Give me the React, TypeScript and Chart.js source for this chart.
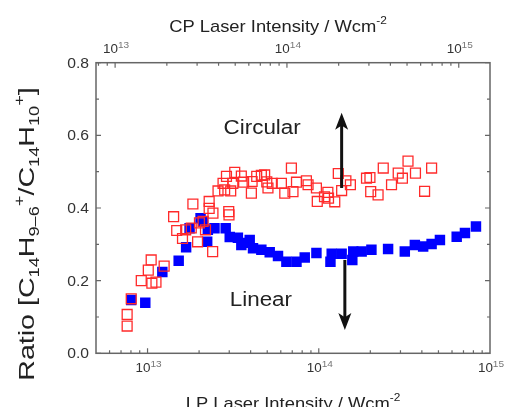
import { useEffect, useRef } from 'react';
import { Chart, registerables } from 'chart.js';

Chart.register(...registerables);

const FONT = '"Liberation Sans", Arial, Helvetica, sans-serif';

// ---- data ----
const lpRange = [5e12, 1e15];
const cpRange = [7.74e12, 1.52e15];
const ratioRange = [0, 0.8];
const ratioTicks = [0, 0.1, 0.2, 0.3, 0.4, 0.5, 0.6, 0.7, 0.8];
const ratioLabels = ['0.0', '', '0.2', '', '0.4', '', '0.6', '', '0.8'];

// Linear polarisation (blue filled squares)
const linearIntensity = [
  8.03e12, 9.7e12, 1.22e13, 1.52e13, 1.68e13, 1.76e13, 2.04e13, 2.11e13, 2.23e13, 2.25e13,
  2.46e13, 2.86e13, 3.02e13, 3.37e13, 3.53e13, 3.78e13, 3.95e13, 4.13e13, 4.62e13, 5.17e13,
  5.78e13, 6.47e13, 7.41e13, 8.28e13, 9.69e13, 1.19e14, 1.17e14, 1.36e14, 1.59e14, 1.57e14,
  1.78e14, 2.03e14, 2.54e14, 3.18e14, 3.64e14, 4.07e14, 4.56e14, 5.1e14, 6.39e14, 7.14e14,
  8.28e14,
];
const linearRatio = [
  0.147, 0.139, 0.224, 0.255, 0.292, 0.344, 0.372, 0.362, 0.307, 0.34,
  0.344, 0.344, 0.32, 0.318, 0.298, 0.304, 0.312, 0.289, 0.285, 0.278,
  0.268, 0.252, 0.252, 0.264, 0.276, 0.274, 0.252, 0.274, 0.28, 0.257,
  0.28, 0.285, 0.287, 0.28, 0.298, 0.294, 0.301, 0.312, 0.321, 0.331,
  0.349,
];

// Circular polarisation (red open squares)
const circularIntensity = [
  7.6e12, 7.6e12, 8.03e12, 9.19e12, 1.01e13, 1.05e13, 1.06e13, 1.12e13, 1.25e13, 1.42e13,
  1.48e13, 1.6e13, 1.67e13, 1.8e13, 1.84e13, 1.96e13, 2.01e13, 2.11e13, 2.18e13, 2.29e13,
  2.29e13, 2.41e13, 2.4e13, 2.58e13, 2.76e13, 2.82e13, 2.89e13, 2.98e13, 2.99e13, 3.06e13,
  3.23e13, 3.15e13, 3.53e13, 3.64e13, 4.04e13, 4.08e13, 4.34e13, 4.62e13, 4.83e13, 4.97e13,
  5.05e13, 5.35e13, 6.05e13, 6.33e13, 6.92e13, 7.07e13, 7.41e13, 8.47e13, 8.66e13, 9.69e13,
  9.8e13, 1.08e14, 1.13e14, 1.14e14, 1.24e14, 1.3e14, 1.36e14, 1.44e14, 1.53e14, 1.9e14,
  1.99e14, 2.01e14, 2.22e14, 2.38e14, 2.66e14, 2.91e14, 3.08e14, 3.32e14, 3.67e14, 4.15e14,
  4.56e14,
];
const circularRatio = [
  0.107, 0.075, 0.15, 0.2, 0.229, 0.257, 0.193, 0.196, 0.24, 0.376,
  0.338, 0.316, 0.34, 0.345, 0.411, 0.307, 0.359, 0.363, 0.34, 0.418,
  0.399, 0.386, 0.28, 0.447, 0.468, 0.45, 0.487, 0.39, 0.381, 0.447,
  0.498, 0.468, 0.488, 0.471, 0.441, 0.473, 0.487, 0.49, 0.491, 0.472,
  0.455, 0.468, 0.468, 0.441, 0.51, 0.445, 0.471, 0.475, 0.464, 0.455,
  0.418, 0.431, 0.443, 0.427, 0.417, 0.495, 0.448, 0.475, 0.464, 0.482,
  0.484, 0.445, 0.436, 0.51, 0.464, 0.496, 0.482, 0.529, 0.496, 0.446,
  0.51,
];

const annotationLabels = ['Circular', 'Linear'];

// ---- drawing helpers ----
type Part = { t: string; size: number; dy?: number; color?: string };

function drawRich(
  ctx: CanvasRenderingContext2D,
  parts: Part[],
  x: number,
  y: number,
  align: 'left' | 'center' | 'right',
  sx = 1,
  angle = 0
) {
  ctx.save();
  ctx.translate(x, y);
  if (angle) ctx.rotate(angle);
  ctx.scale(sx, 1);
  const widths = parts.map((p) => {
    ctx.font = `${p.size}px ${FONT}`;
    return ctx.measureText(p.t).width;
  });
  const W = widths.reduce((a, b) => a + b, 0);
  let cx = align === 'center' ? -W / 2 : align === 'right' ? -W : 0;
  ctx.textBaseline = 'alphabetic';
  ctx.textAlign = 'left';
  parts.forEach((p, i) => {
    ctx.font = `${p.size}px ${FONT}`;
    ctx.fillStyle = p.color || '#222';
    ctx.fillText(p.t, cx, p.dy || 0);
    cx += widths[i];
  });
  ctx.restore();
}

function logTicks(min: number, max: number) {
  const out: { v: number; major: boolean; e: number }[] = [];
  for (let e = Math.floor(Math.log10(min)); e <= Math.ceil(Math.log10(max)); e++) {
    for (let m = 1; m <= 9; m++) {
      const v = m * Math.pow(10, e);
      if (v > min * 1.0001 && v < max * 0.9999) out.push({ v, major: m === 1, e });
    }
  }
  return out;
}

function drawArrow(ctx: CanvasRenderingContext2D, x: number, y0: number, y1: number) {
  const dir = y1 < y0 ? -1 : 1;
  const head = 17;
  const hw = 6.5;
  ctx.strokeStyle = '#111';
  ctx.fillStyle = '#111';
  ctx.lineWidth = 3;
  ctx.beginPath();
  ctx.moveTo(x, y0);
  ctx.lineTo(x, y1 - dir * head * 0.6);
  ctx.stroke();
  ctx.beginPath();
  ctx.moveTo(x, y1);
  ctx.lineTo(x - hw, y1 - dir * head);
  ctx.lineTo(x, y1 - dir * head * 0.75);
  ctx.lineTo(x + hw, y1 - dir * head);
  ctx.closePath();
  ctx.fill();
}

const decorPlugin = {
  id: 'decor',
  afterDatasetsDraw(chart: any) {
    const ctx: CanvasRenderingContext2D = chart.ctx;
    const { left, right, top, bottom } = chart.chartArea;
    const xs = chart.scales.x;
    const x2s = chart.scales.x2;
    const ys = chart.scales.y;
    const SX = 1.12;

    ctx.save();

    // annotations
    drawRich(ctx, [{ t: annotationLabels[0], size: 20, color: '#222' }],
      xs.getPixelForValue(2.78e13), ys.getPixelForValue(0.604), 'left', SX);
    drawRich(ctx, [{ t: annotationLabels[1], size: 20, color: '#222' }],
      xs.getPixelForValue(3.02e13), ys.getPixelForValue(0.13), 'left', SX);
    drawArrow(ctx, xs.getPixelForValue(1.36e14), ys.getPixelForValue(0.455), ys.getPixelForValue(0.662));
    drawArrow(ctx, xs.getPixelForValue(1.42e14), ys.getPixelForValue(0.257), ys.getPixelForValue(0.064));

    // frame
    ctx.strokeStyle = '#666';
    ctx.lineWidth = 1.5;
    ctx.strokeRect(left, top, right - left, bottom - top);

    // ticks
    ctx.lineWidth = 1.2;
    ctx.beginPath();
    logTicks(lpRange[0], lpRange[1]).forEach((t) => {
      const px = xs.getPixelForValue(t.v);
      const len = t.major ? 5 : 3;
      ctx.moveTo(px, bottom);
      ctx.lineTo(px, bottom - len);
    });
    logTicks(cpRange[0], cpRange[1]).forEach((t) => {
      const px = x2s.getPixelForValue(t.v);
      const len = t.major ? 5 : 3;
      ctx.moveTo(px, top);
      ctx.lineTo(px, top + len);
    });
    ratioTicks.forEach((v, i) => {
      const py = ys.getPixelForValue(v);
      const len = ratioLabels[i] ? 5 : 3;
      ctx.moveTo(left, py);
      ctx.lineTo(left + len, py);
      ctx.moveTo(right, py);
      ctx.lineTo(right - len, py);
    });
    ctx.stroke();

    // tick labels
    ratioTicks.forEach((v, i) => {
      if (!ratioLabels[i]) return;
      const py = ys.getPixelForValue(v);
      drawRich(ctx, [{ t: ratioLabels[i], size: 14, color: '#333' }], left - 7, py + 5, 'right', SX);
    });
    logTicks(lpRange[0] / 1.001, lpRange[1] * 1.001).filter((t) => t.major).forEach((t) => {
      const px = xs.getPixelForValue(t.v);
      drawRich(ctx, [
        { t: '10', size: 12, color: '#333' },
        { t: String(t.e), size: 9, dy: -5, color: '#777' },
      ], px + 1, bottom + 19, 'center', SX);
    });
    logTicks(cpRange[0], cpRange[1]).filter((t) => t.major).forEach((t) => {
      const px = x2s.getPixelForValue(t.v);
      drawRich(ctx, [
        { t: '10', size: 12, color: '#333' },
        { t: String(t.e), size: 9, dy: -5, color: '#777' },
      ], px + 1, top - 10, 'center', SX);
    });

    // axis titles
    drawRich(ctx, [
      { t: 'CP Laser Intensity / Wcm', size: 17, color: '#222' },
      { t: '-2', size: 11, dy: -8, color: '#222' },
    ], 278, 32, 'center', 1.08);
    drawRich(ctx, [
      { t: 'LP Laser Intensity / Wcm', size: 17, color: '#222' },
      { t: '-2', size: 11, dy: -8, color: '#222' },
    ], 293, 409, 'center', 1.08);
    drawRich(ctx, [
      { t: 'Ratio [C', size: 22 },
      { t: '14', size: 14, dy: 5 },
      { t: 'H', size: 22 },
      { t: '9\u20136', size: 14, dy: 5 },
      { t: '+', size: 14, dy: -10 },
      { t: '/C', size: 22 },
      { t: '14', size: 14, dy: 5 },
      { t: 'H', size: 22 },
      { t: '10', size: 14, dy: 5 },
      { t: '+', size: 14, dy: -10 },
      { t: ']', size: 22 },
    ], 34, 234, 'center', 1.3, -Math.PI / 2);

    ctx.restore();
  },
};

export default function App() {
  const ref = useRef<HTMLCanvasElement | null>(null);

  useEffect(() => {
    if (!ref.current) return;
    const chart = new Chart(ref.current, {
      type: 'scatter',
      data: {
        datasets: [
          {
            label: 'Linear',
            data: linearIntensity.map((x, i) => ({ x, y: linearRatio[i] })),
            pointStyle: 'rect',
            pointRadius: 7.4,
            backgroundColor: '#0000ff',
            borderColor: '#0000ff',
            borderWidth: 0,
            order: 2,
          },
          {
            label: 'Circular',
            data: circularIntensity.map((x, i) => ({ x, y: circularRatio[i] })),
            pointStyle: 'rect',
            pointRadius: 7,
            backgroundColor: 'rgba(255,255,255,0)',
            borderColor: '#ff2a2a',
            borderWidth: 1.3,
            order: 1,
          },
        ],
      },
      options: {
        animation: false,
        responsive: false,
        events: [],
        layout: { padding: { left: 96, right: 17, top: 62.7, bottom: 53.7 } },
        plugins: { legend: { display: false }, tooltip: { enabled: false } },
        scales: {
          x: { type: 'logarithmic', position: 'bottom', min: lpRange[0], max: lpRange[1], display: false },
          x2: { type: 'logarithmic', position: 'top', min: cpRange[0], max: cpRange[1], display: false },
          y: { type: 'linear', position: 'left', min: ratioRange[0], max: ratioRange[1], display: false },
        },
      },
      plugins: [decorPlugin],
    });
    return () => chart.destroy();
  }, []);

  return (
    <canvas
      ref={ref}
      width={507}
      height={407}
      style={{ position: 'absolute', left: 0, top: 0, width: 507, height: 407, display: 'block' }}
    />
  );
}
